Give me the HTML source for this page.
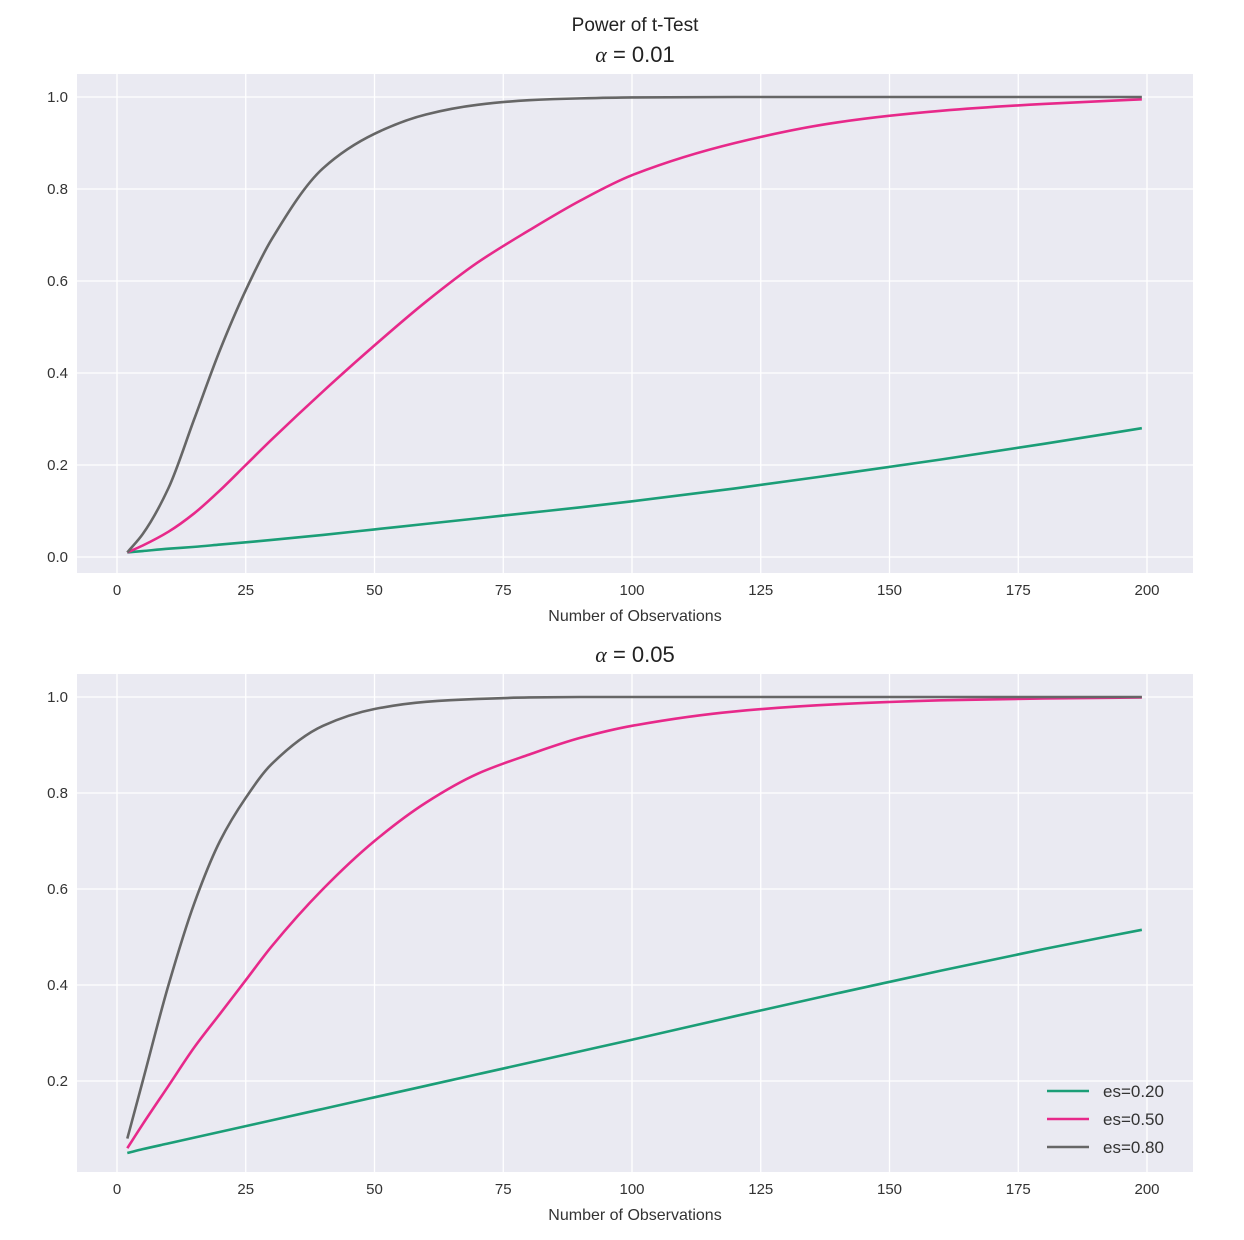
<!DOCTYPE html>
<html><head><meta charset="utf-8">
<style>
body{margin:0;background:#fff;}
svg{display:block;font-family:"Liberation Sans",sans-serif;}
</style></head>
<body>
<svg id="chart" width="1244" height="1240" viewBox="0 0 1244 1240" xmlns="http://www.w3.org/2000/svg">
<text x="635" y="31" text-anchor="middle" font-size="19" fill="#222">Power of t-Test</text>
</svg>
<script>
const xTicks=[0,25,50,75,100,125,150,175,200];
const nTop=[2,5,10,15,20,25,30,40,50,60,70,80,90,100,120,140,160,180,199];
const topGray=[0.01,0.05,0.15,0.30,0.45,0.58,0.69,0.845,0.92,0.962,0.983,0.993,0.997,0.999,1,1,1,1,1];
const topPink=[0.01,0.025,0.055,0.095,0.145,0.20,0.255,0.36,0.46,0.555,0.64,0.71,0.775,0.83,0.90,0.945,0.97,0.985,0.995];
const topGreen=[0.01,0.013,0.018,0.022,0.027,0.032,0.037,0.048,0.06,0.072,0.084,0.096,0.108,0.121,0.149,0.18,0.212,0.246,0.28];
const nBot=[2,5,10,15,20,25,30,40,50,60,70,80,90,100,120,140,160,180,199];
const botGray=[0.08,0.20,0.40,0.57,0.70,0.79,0.86,0.94,0.975,0.99,0.996,0.999,1,1,1,1,1,1,1];
const botPink=[0.06,0.11,0.19,0.27,0.34,0.41,0.48,0.60,0.70,0.78,0.84,0.88,0.915,0.94,0.97,0.985,0.993,0.997,0.999];
const botGreen=[0.05,0.058,0.07,0.082,0.094,0.106,0.118,0.142,0.166,0.19,0.214,0.238,0.262,0.286,0.335,0.383,0.43,0.475,0.515];
const topYTicks=[0,0.2,0.4,0.6,0.8,1.0];
const botYTicks=[0.2,0.4,0.6,0.8,1.0];
const legendLabels=["es=0.20","es=0.50","es=0.80"];
const colors=["#1b9e77","#e7298a","#666666"];
const NS="http://www.w3.org/2000/svg";
const svg=document.getElementById('chart');
function mk(tag,attrs,parent){const e=document.createElementNS(NS,tag);for(const k in attrs)e.setAttribute(k,attrs[k]);(parent||svg).appendChild(e);return e;}
function xs(v){return 117+v*(1147-117)/200;}
function monotone(pts){
  const n=pts.length,dx=[],s=[],m=[];
  for(let i=0;i<n-1;i++){dx[i]=pts[i+1][0]-pts[i][0];s[i]=(pts[i+1][1]-pts[i][1])/dx[i];}
  m[0]=s[0];m[n-1]=s[n-2];
  for(let i=1;i<n-1;i++){if(s[i-1]*s[i]<=0)m[i]=0;else{const w1=2*dx[i]+dx[i-1],w2=dx[i]+2*dx[i-1];m[i]=(w1+w2)/(w1/s[i-1]+w2/s[i]);}}
  let d=`M${pts[0][0]},${pts[0][1]}`;
  for(let i=0;i<n-1;i++){const h=dx[i]/3;d+=` C${pts[i][0]+h},${pts[i][1]+m[i]*h} ${pts[i+1][0]-h},${pts[i+1][1]-m[i+1]*h} ${pts[i+1][0]},${pts[i+1][1]}`;}
  return d;
}
function panel(name,top,bottom,y1px,pxPerUnit,yTicks,ns,series,alphaText,legend){
  const ys=v=>y1px+(1-v)*pxPerUnit;
  const g=mk('g',{});
  
  
  const bg=mk('rect',{x:77,y:top,width:1116,height:bottom-top,fill:'#eaeaf2'},g);
  
  
  xTicks.forEach(t=>{
    const l=mk('line',{x1:xs(t),x2:xs(t),y1:top,y2:bottom,stroke:'#fff','stroke-width':1.3},g);
    
    
    const tx=mk('text',{x:xs(t),y:bottom+22,'text-anchor':'middle','font-size':15,fill:'#333'},g);
    
    
    tx.textContent=t;
  });
  yTicks.forEach(t=>{
    const l=mk('line',{x1:77,x2:1193,y1:ys(t),y2:ys(t),stroke:'#fff','stroke-width':1.3},g);
    
    
    const tx=mk('text',{x:68,y:ys(t)+5,'text-anchor':'end','font-size':15,fill:'#333'},g);
    
    
    tx.textContent=t.toFixed(1);
  });
  series.forEach((s,i)=>{
    const p=mk('path',{d:monotone(ns.map((n,j)=>[xs(n),ys(s[j])])),fill:'none',stroke:colors[i],'stroke-width':2.6},g);
    
    
  });
  const xl=mk('text',{x:635,y:bottom+48,'text-anchor':'middle','font-size':16,fill:'#333'},g);
  
  
  xl.textContent='Number of Observations';
  const at=mk('text',{x:635,y:top-12,'text-anchor':'middle','font-size':22,fill:'#222'},g);
  
  
  at.innerHTML='<tspan font-style="italic" font-family="Liberation Serif">α</tspan> = '+alphaText;
  if(legend){
    legendLabels.forEach((lab,i)=>{
      const y=1091+i*28;
      const ll=mk('line',{x1:1047,x2:1089,y1:y,y2:y,stroke:colors[i],'stroke-width':2.6},g);
      
      
      const lt=mk('text',{x:1103,y:y+6,'font-size':17,fill:'#333'},g);
      
      
      lt.textContent=lab;
    });
  }
}
panel('top-panel',74,573,97,460,topYTicks,nTop,[topGreen,topPink,topGray],'0.01',false);
panel('bottom-panel',674,1172,697,480,botYTicks,nBot,[botGreen,botPink,botGray],'0.05',true);
</script>
</body></html>
